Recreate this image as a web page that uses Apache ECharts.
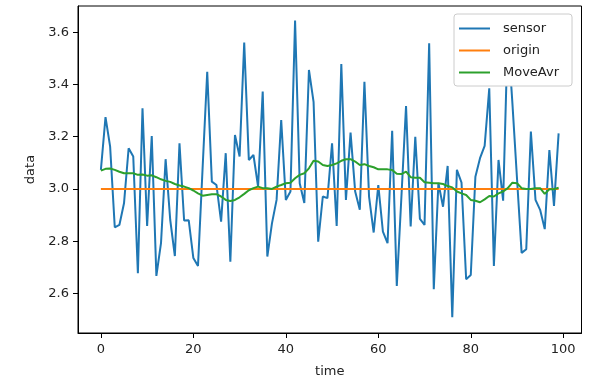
<!DOCTYPE html>
<html>
<head>
<meta charset="utf-8">
<script src="https://cdn.jsdelivr.net/npm/echarts@6/dist/echarts.min.js"></script>
<style>
html,body{margin:0;padding:0;background:#fff;}
#chart{width:615px;height:389px;}
</style>
</head>
<body>
<div id="chart"></div>
<script>
const time = Array.from({length: 100}, (_, i) => i);
const sensor = [
  3.073, 3.275, 3.162, 2.853, 2.862, 2.945, 3.156, 3.124, 2.677, 3.309,
  2.858, 3.203, 2.667, 2.792, 3.114, 2.881, 2.743, 3.175, 2.879, 2.880,
  2.735, 2.705, 3.080, 3.449, 3.028, 3.015, 2.875, 3.137, 2.721, 3.207,
  3.124, 3.561, 3.111, 3.130, 3.009, 3.373, 2.741, 2.868, 2.958, 3.264,
  2.958, 2.990, 3.645, 3.022, 2.946, 3.456, 3.334, 2.798, 2.971, 2.965,
  3.175, 2.858, 3.479, 2.958, 3.216, 2.990, 2.920, 3.411, 2.971, 2.833,
  3.015, 2.836, 2.792, 3.223, 2.628, 2.970, 3.318, 2.856, 3.200, 2.885,
  2.862, 3.558, 2.616, 3.023, 2.932, 3.088, 2.508, 3.073, 3.024, 2.654,
  2.670, 3.047, 3.118, 3.165, 3.386, 2.705, 3.111, 2.955, 3.600, 3.330,
  3.040, 2.755, 2.769, 3.220, 2.958, 2.920, 2.846, 3.149, 2.935, 3.213
];
const origin = [
  3,3,3,3,3,3,3,3,3,3, 3,3,3,3,3,3,3,3,3,3,
  3,3,3,3,3,3,3,3,3,3, 3,3,3,3,3,3,3,3,3,3,
  3,3,3,3,3,3,3,3,3,3, 3,3,3,3,3,3,3,3,3,3,
  3,3,3,3,3,3,3,3,3,3, 3,3,3,3,3,3,3,3,3,3,
  3,3,3,3,3,3,3,3,3,3, 3,3,3,3,3,3,3,3,3,3
];
const moveAvr = [
  3.070, 3.077, 3.078, 3.073, 3.066, 3.060, 3.060, 3.060, 3.054, 3.055,
  3.051, 3.052, 3.045, 3.037, 3.031, 3.027, 3.019, 3.013, 3.009, 3.003,
  2.994, 2.983, 2.974, 2.977, 2.980, 2.980, 2.971, 2.958, 2.954, 2.958,
  2.968, 2.981, 2.995, 3.003, 3.009, 3.003, 3.003, 3.000, 3.009, 3.015,
  3.022, 3.024, 3.041, 3.054, 3.060, 3.079, 3.108, 3.105, 3.092, 3.088,
  3.092, 3.098, 3.108, 3.114, 3.114, 3.105, 3.092, 3.095, 3.088, 3.083,
  3.075, 3.075, 3.075, 3.073, 3.058, 3.057, 3.066, 3.045, 3.043, 3.043,
  3.026, 3.024, 3.022, 3.022, 3.019, 3.011, 3.006, 2.990, 2.983, 2.977,
  2.958, 2.955, 2.949, 2.960, 2.973, 2.971, 2.983, 2.990, 3.003, 3.024,
  3.022, 3.003, 3.000, 3.000, 3.003, 3.003, 2.981, 2.999, 2.999, 3.005
];
const xTicks = [0, 20, 40, 60, 80, 100];
const yTicks = [2.6, 2.8, 3.0, 3.2, 3.4, 3.6];
const seriesNames = ['sensor', 'origin', 'MoveAvr'];
const colors = ['#1f77b4', '#ff7f0e', '#2ca02c'];

const pairs = arr => time.map((t, i) => [t, arr[i]]);
const font = 'DejaVu Sans';
const txt = '#222';

const chart = echarts.init(document.getElementById('chart'), null, {renderer: 'canvas'});
chart.setOption({
  animation: false,
  backgroundColor: '#fff',
  color: colors,
  textStyle: {fontFamily: font},
  grid: {
    left: 78, right: 33.5, top: 6, bottom: 56,
    show: true, borderColor: '#000', borderWidth: 1, backgroundColor: 'transparent'
  },
  legend: {
    orient: 'vertical',
    left: 454, top: 14,
    padding: [7, 13, 6, 5],
    itemGap: 7,
    itemWidth: 31, itemHeight: 2,
    icon: 'rect',
    backgroundColor: '#ffffff',
    borderColor: '#cccccc', borderWidth: 1, borderRadius: 3,
    textStyle: {fontFamily: font, fontSize: 13, color: txt, lineHeight: 15, padding: [0, 0, 0, 8]},
    data: seriesNames
  },
  xAxis: {
    type: 'value',
    min: -4.95, max: 103.95,
    name: 'time', nameLocation: 'middle', nameGap: 32,
    nameTextStyle: {fontFamily: font, fontSize: 13, color: txt},
    axisLine: {show: true, onZero: false, lineStyle: {color: '#000', width: 1}},
    axisTick: {show: true, length: 5, lineStyle: {color: '#000'}, customValues: xTicks},
    axisLabel: {fontFamily: font, fontSize: 13, color: txt, margin: 10, customValues: xTicks,
      formatter: v => String(Math.round(v))},
    splitLine: {show: false}
  },
  yAxis: {
    type: 'value',
    min: 2.448, max: 3.701,
    name: 'data', nameLocation: 'middle', nameGap: 41, nameRotate: 90,
    nameTextStyle: {fontFamily: font, fontSize: 13, color: txt},
    axisLine: {show: true, onZero: false, lineStyle: {color: '#000', width: 1}},
    axisTick: {show: true, length: 5, lineStyle: {color: '#000'}, customValues: yTicks},
    axisLabel: {fontFamily: font, fontSize: 13, color: txt, margin: 9, customValues: yTicks,
      formatter: v => v.toFixed(1)},
    splitLine: {show: false}
  },
  series: [
    {name: seriesNames[0], type: 'line', data: pairs(sensor), symbol: 'none',
      lineStyle: {width: 2, color: colors[0]}, itemStyle: {color: colors[0]}},
    {name: seriesNames[1], type: 'line', data: pairs(origin), symbol: 'none',
      lineStyle: {width: 2, color: colors[1]}, itemStyle: {color: colors[1]}},
    {name: seriesNames[2], type: 'line', data: pairs(moveAvr), symbol: 'none',
      lineStyle: {width: 2, color: colors[2]}, itemStyle: {color: colors[2]}}
  ]
});
</script>
</body>
</html>
